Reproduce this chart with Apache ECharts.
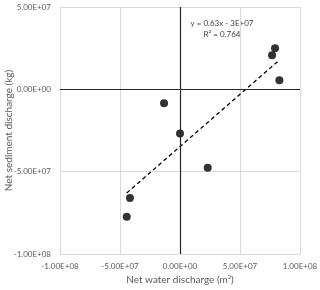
<!DOCTYPE html>
<html><head><meta charset="utf-8">
<script src="https://cdn.jsdelivr.net/npm/echarts@6/dist/echarts.min.js"></script>
<style>html,body{margin:0;padding:0;background:#fff}#c{width:320px;height:290px}</style>
</head><body><div id="c"></div>
<script>
const waterDischarge = [7.92e7, 7.67e7, 8.28e7, -1.33e7, 0.0e7, 2.31e7, -4.17e7, -4.44e7];
const sedimentDischarge = [2.5e7, 2.07e7, 0.55e7, -0.85e7, -2.68e7, -4.76e7, -6.6e7, -7.74e7];
const equationText = 'y = 0.63x - 3E+07';
const r2Text = 'R² = 0.764';
const xTitle = 'Net water discharge (m³)';
const yTitle = 'Net sediment discharge (kg)';

const pts = waterDischarge.map((x, i) => [x, sedimentDischarge[i]]);
// least squares trendline
const n = pts.length;
const mx = waterDischarge.reduce((a, b) => a + b, 0) / n;
const my = sedimentDischarge.reduce((a, b) => a + b, 0) / n;
let sxy = 0, sxx = 0;
pts.forEach(([x, y]) => { sxy += (x - mx) * (y - my); sxx += (x - mx) * (x - mx); });
const slope = sxy / sxx, icpt = my - slope * mx;
const xmin = Math.min(...waterDischarge), xmax = Math.max(...waterDischarge);
const trend = [[xmin, slope * xmin + icpt], [xmax, slope * xmax + icpt]];

const fmt = v => {
  if (v === 0) return '0.00E+00';
  const e = Math.floor(Math.log10(Math.abs(v)));
  const m = v / Math.pow(10, e);
  return m.toFixed(2) + 'E+' + String(e).padStart(2, '0');
};
const FONT = 'Lato';
const gray = '#595959';
const chart = echarts.init(document.getElementById('c'), null, {renderer: 'canvas'});
chart.setOption({
  animation: false,
  textStyle: {fontFamily: FONT},
  grid: {left: 60, right: 20, top: 7, bottom: 36, containLabel: false, outerBoundsMode: 'none'},
  xAxis: {
    type: 'value', min: -1e8, max: 1e8, interval: 5e7,
    name: xTitle, nameLocation: 'middle', nameGap: 21, nameMoveOverlap: false,
    nameTextStyle: {color: gray, fontSize: 10, fontFamily: FONT},
    axisLine: {show: false}, axisTick: {show: false},
    axisLabel: {color: gray, fontSize: 8, margin: 8, formatter: fmt},
    splitLine: {lineStyle: {color: '#d9d9d9', width: 1}}
  },
  yAxis: {
    type: 'value', min: -1e8, max: 5e7, interval: 5e7,
    name: yTitle, nameLocation: 'middle', nameGap: 46, nameMoveOverlap: false,
    nameTextStyle: {color: gray, fontSize: 10, fontFamily: FONT},
    axisLine: {show: false}, axisTick: {show: false},
    axisLabel: {color: gray, fontSize: 8, margin: 9, formatter: fmt},
    splitLine: {lineStyle: {color: '#d9d9d9', width: 1}}
  },
  series: [
    {
      type: 'scatter', data: [], silent: true,
      markLine: {
        silent: true, symbol: 'none', label: {show: false},
        lineStyle: {color: '#262626', width: 1.2, type: 'solid'},
        data: [{xAxis: 0}, {yAxis: 0}]
      }
    },
    {
      type: 'line', data: trend, symbol: 'none', silent: true,
      lineStyle: {color: '#000', width: 1.3, type: [4, 3]}
    },
    {
      type: 'scatter', data: pts, symbol: 'circle', symbolSize: 8,
      itemStyle: {color: '#000'}
    }
  ],
  graphic: [
    {type: 'text', style: {text: equationText, x: 222, y: 23, align: 'center', verticalAlign: 'middle', fill: '#404040', font: '8px ' + FONT}},
    {type: 'text', style: {text: r2Text, x: 222, y: 34, align: 'center', verticalAlign: 'middle', fill: '#404040', font: '8px ' + FONT}}
  ]
});
</script></body></html>
